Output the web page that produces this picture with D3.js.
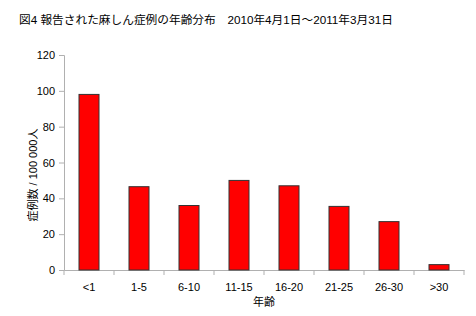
<!DOCTYPE html>
<html><head><meta charset="utf-8">
<script src="https://cdn.jsdelivr.net/npm/d3@7"></script>
<style>body{margin:0;background:#fff}</style>
</head><body>
<script>
const categories = ["<1","1-5","6-10","11-15","16-20","21-25","26-30",">30"];
const values = [98, 46.5, 36, 50, 47, 35.5, 27, 3];
const yTicks = [0,20,40,60,80,100,120];
const title = "図4 報告された麻しん症例の年齢分布　2010年4月1日～2011年3月31日";
const xTitle = "年齢";
const yTitle = "症例数 / 100 000人";

const W=476,H=316;
const font = "Arial, 'Liberation Sans', 'Noto Sans CJK JP', sans-serif";
const svg = d3.select("body").append("svg").attr("width",W).attr("height",H);
const x = d3.scaleBand().domain(categories).range([64,464]).paddingInner(0.6).paddingOuter(0.3);
const y = d3.scaleLinear().domain([0,120]).range([270,55]);

svg.append("text").attr("x",19).attr("y",24).attr("font-family",font).attr("font-size",11.7).attr("fill","#000").text(title);

const ya = svg.append("g").attr("transform","translate(64,0)").call(d3.axisLeft(y).tickValues(yTicks).tickSize(5).tickPadding(4));
const xa = svg.append("g").attr("transform","translate(0,270)").call(d3.axisBottom(x).tickSize(0).tickPadding(13));
[ya,xa].forEach(a=>{a.selectAll("path,line").attr("stroke","#b0b0b0");a.selectAll("text").attr("font-family",font).attr("font-size",11).attr("fill","#000");});
// category boundary ticks
svg.append("g").selectAll("line").data(d3.range(categories.length+1)).join("line")
  .attr("x1",i=>64+i*x.step()).attr("x2",i=>64+i*x.step()).attr("y1",270).attr("y2",275).attr("stroke","#b0b0b0");

svg.append("g").selectAll("rect").data(values).join("rect")
  .attr("x",(d,i)=>x(categories[i])).attr("width",x.bandwidth())
  .attr("y",d=>y(d)).attr("height",d=>y(0)-y(d))
  .attr("fill","#ff0000").attr("stroke","#333").attr("stroke-width",1);

svg.append("text").attr("x",264).attr("y",306).attr("text-anchor","middle").attr("font-family",font).attr("font-size",11).text(xTitle);
svg.append("text").attr("transform","translate(37,175) rotate(-90)").attr("text-anchor","middle").attr("font-family",font).attr("font-size",11).text(yTitle);
</script>
</body></html>
